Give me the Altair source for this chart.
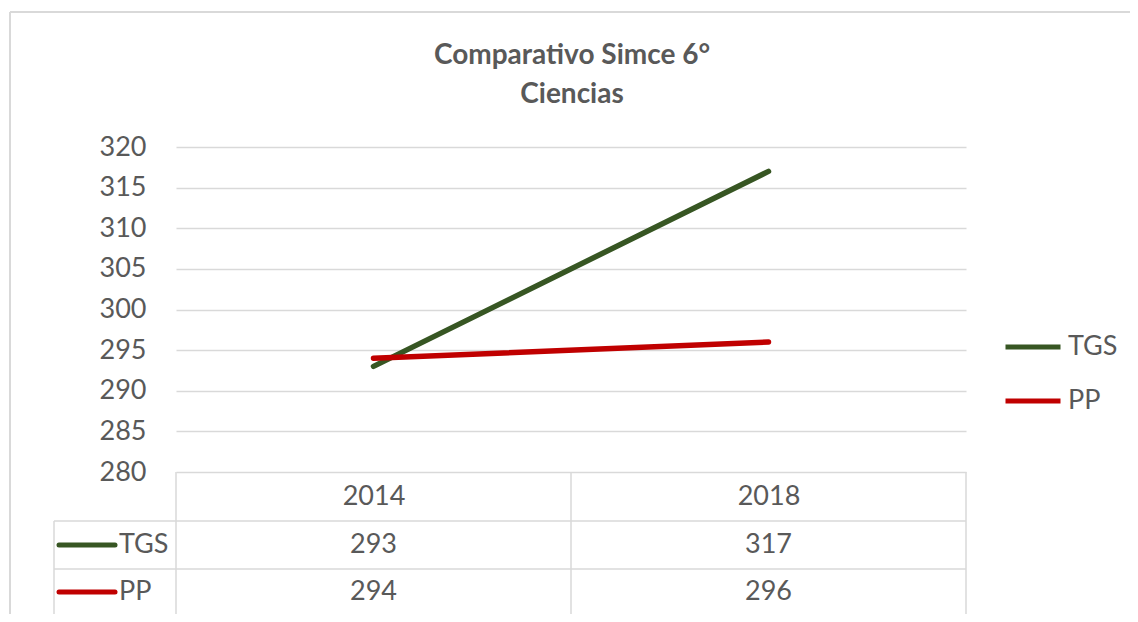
import altair as alt
import pandas as pd

# ---- data ----
years = ["2014", "2018"]
series_names = ["TGS", "PP"]
tgs_values = [293, 317]
pp_values = [294, 296]
colors = ["#375623", "#C00000"]
y_ticks = [280, 285, 290, 295, 300, 305, 310, 315, 320]
title_lines = ["Comparativo Simce 6°", "Ciencias"]

rows = []
for name, vals in zip(series_names, [tgs_values, pp_values]):
    for yr, v in zip(years, vals):
        rows.append({"year": yr, "series": name, "value": v})
df = pd.DataFrame(rows)
one = pd.DataFrame({"k": [0]})

# ---- styling / layout ----
W, H = 790, 325
FONT = "Lato"
TXT = "#595959"
GRID = "#D9D9D9"
FS = 27
LW = 5.5

color_scale = alt.Scale(domain=series_names, range=colors)
x_enc = alt.X(
    "year:N", sort=years, scale=alt.Scale(type="point", padding=0.5),
    axis=alt.Axis(title=None, ticks=False, tickSize=0, domain=False, grid=False,
                  labelAngle=0, labelFont=FONT, labelFontSize=FS, labelColor=TXT,
                  labelPadding=24, labelBaseline="middle"),
)

base = alt.Chart(df)

lines = base.mark_line(strokeWidth=LW, strokeCap="round").encode(
    x=x_enc,
    y=alt.Y("value:Q", scale=alt.Scale(domain=[280, 320], nice=False, zero=False),
            axis=alt.Axis(values=y_ticks, title=None, ticks=False, domain=False,
                          grid=True, gridColor=GRID, gridWidth=1.5,
                          labelFont=FONT, labelFontSize=FS, labelColor=TXT,
                          labelPadding=30)),
    color=alt.Color("series:N", scale=color_scale,
                    legend=alt.Legend(title=None, orient="none", legendX=827, legendY=170,
                                      symbolType="stroke", symbolSize=3025,
                                      symbolStrokeWidth=5, labelFont=FONT,
                                      labelFontSize=FS, labelColor=TXT, labelOffset=5,
                                      padding=0, rowPadding=11)),
)

layers = [lines]

def rule(x1, x2, y1, y2, color=GRID, width=1.5, cap="butt"):
    return alt.Chart(one).mark_rule(color=color, strokeWidth=width, strokeCap=cap).encode(
        x=alt.value(x1), x2=alt.value(x2), y=alt.value(y1), y2=alt.value(y2))

# table grid
for y in [374, 422, 468]:
    layers.append(rule(-122, W, y, y))
for x in [-122]:
    layers.append(rule(x, x, 374, 468))
for x in [0, W / 2, W]:
    layers.append(rule(x, x, H, 468))
# outer chart border
layers.append(rule(-166, -166, -135, 480, color="#D9D9D9", width=2))
layers.append(rule(-166, 980, -135, -135, color="#D9D9D9", width=2))

row_y = [398, 445]
for i, name in enumerate(series_names):
    cells = base.transform_filter(alt.datum.series == name).mark_text(
        font=FONT, fontSize=FS, color=TXT, baseline="middle", align="center"
    ).encode(x=x_enc, y=alt.value(row_y[i]), text="value:Q")
    layers.append(cells)
    layers.append(rule(-117, -61, row_y[i], row_y[i], color=colors[i], width=5, cap="round"))
    layers.append(alt.Chart(one).mark_text(
        font=FONT, fontSize=FS, color=TXT, baseline="middle", align="left"
    ).encode(x=alt.value(-57), y=alt.value(row_y[i]), text=alt.value(name)))

# title
for i, t in enumerate(title_lines):
    layers.append(alt.Chart(one).mark_text(
        font=FONT, fontSize=28, fontWeight="bold", color=TXT, baseline="middle",
        align="center"
    ).encode(x=alt.value(W / 2 + 1), y=alt.value([-91, -52][i]), text=alt.value(t)))

chart = alt.layer(*layers).properties(
    width=W, height=H,
    autosize=alt.AutoSizeParams(type="none"),
    padding={"left": 168, "top": 139, "right": 164, "bottom": 142},
    background="white",
).configure_view(strokeWidth=0)

chart.save("out.html", embed_options={"renderer": "svg", "actions": False})
